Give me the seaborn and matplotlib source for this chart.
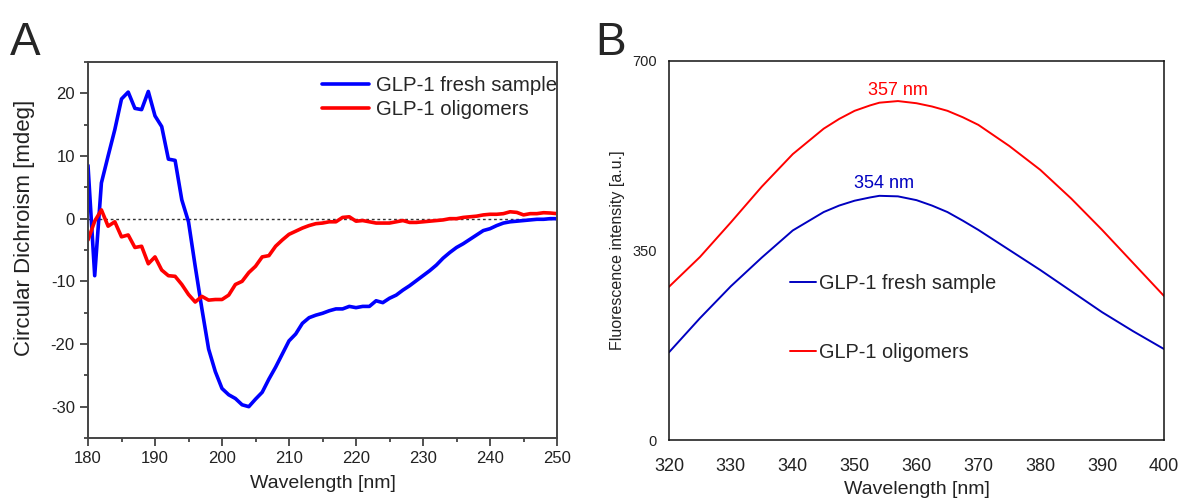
import numpy as np
import pandas as pd
import seaborn as sns
import matplotlib.pyplot as plt

sns.set_style("white")
plt.rcParams['font.family'] = ['Liberation Sans', 'DejaVu Sans']
plt.rcParams['axes.unicode_minus'] = False

# Panel A - CD spectra
cd_wl = np.arange(180, 251)
cd_fresh = [8.5, -9.1, 5.7, 10.0, 14.2, 19.1, 20.2, 17.6, 17.4, 20.3,
            16.4, 14.7, 9.5, 9.3, 3.0, -0.5, -7.6, -14.4, -20.8, -24.4,
            -27.1, -28.1, -28.7, -29.7, -30.0, -28.8, -27.7, -25.6, -23.7, -21.6,
            -19.5, -18.4, -16.7, -15.8, -15.4, -15.1, -14.7, -14.4, -14.4, -14.0,
            -14.2, -14.0, -14.0, -13.1, -13.4, -12.7, -12.2, -11.4, -10.7, -9.9,
            -9.1, -8.3, -7.4, -6.3, -5.4, -4.6, -4.0, -3.3, -2.6, -1.9,
            -1.6, -1.1, -0.7, -0.5, -0.4, -0.3, -0.2, -0.1, -0.1, 0.0, 0.0]
cd_olig = [-3.4, -0.4, 1.4, -1.2, -0.5, -2.9, -2.6, -4.6, -4.4, -7.2,
           -6.1, -8.2, -9.1, -9.2, -10.5, -12.1, -13.3, -12.4, -13.0, -12.9,
           -12.9, -12.2, -10.5, -10.0, -8.6, -7.6, -6.1, -5.9, -4.4, -3.4,
           -2.5, -2.0, -1.5, -1.1, -0.8, -0.7, -0.5, -0.5, 0.2, 0.3,
           -0.4, -0.3, -0.5, -0.7, -0.7, -0.7, -0.5, -0.3, -0.6, -0.6,
           -0.5, -0.4, -0.3, -0.2, 0.0, 0.0, 0.2, 0.3, 0.4, 0.6,
           0.7, 0.7, 0.8, 1.1, 1.0, 0.6, 0.8, 0.8, 0.95, 0.9, 0.8]

# Panel B - fluorescence spectra
fl_wl = [320, 325, 330, 335, 340, 345, 347.5, 350, 352.5, 354, 357, 360, 362.5,
         365, 367.5, 370, 375, 380, 385, 390, 395, 400]
fl_fresh = [162, 225, 284, 337, 387, 421, 433, 442, 448, 451, 450, 443, 433,
            421, 405, 388, 351, 314, 275, 236, 201, 168]
fl_olig = [283, 338, 402, 468, 528, 575, 593, 608, 618, 623, 626, 622, 616,
           608, 596, 582, 543, 499, 446, 388, 327, 266]
series = ["GLP-1 fresh sample", "GLP-1 oligomers"]

fig = plt.figure(figsize=(11.79, 4.99), dpi=100)
ax1 = fig.add_axes([88/1179, 61/499, 469/1179, 376/499])
ax2 = fig.add_axes([669/1179, 59/499, 495/1179, 379/499])

dfa = pd.DataFrame({"wl": np.concatenate([cd_wl, cd_wl]),
                    "cd": cd_fresh + cd_olig,
                    "s": [series[0]] * len(cd_wl) + [series[1]] * len(cd_wl)})
sns.lineplot(data=dfa, x="wl", y="cd", hue="s", palette=["#0000ff", "#ff0000"],
             linewidth=2.6, ax=ax1)
ax1.axhline(0, color="#333333", linestyle=(0, (2, 2)), linewidth=1, zorder=0)
ax1.set_xlim(180, 250)
ax1.set_ylim(-35, 25)
ax1.set_xticks(np.arange(180, 251, 10))
ax1.set_xticks(np.arange(185, 250, 10), minor=True)
ax1.set_yticks(np.arange(-30, 21, 10))
ax1.set_yticks(np.arange(-35, 26, 5), minor=True)
ax1.tick_params(which="major", direction="out", length=6, width=1.2, color="#333333",
                labelsize=12, bottom=True, left=True, labelcolor="#222222")
ax1.tick_params(which="minor", direction="out", length=3, width=1.2, color="#333333",
                bottom=True, left=True)
for sp in ax1.spines.values():
    sp.set_color("#444444")
    sp.set_linewidth(1.4)
ax1.set_xlabel("Wavelength [nm]", fontsize=14, color="#222222", labelpad=6)
ax1.set_ylabel("Circular Dichroism [mdeg]", fontsize=16, color="#222222")
ax1.yaxis.set_label_coords(-0.113, 0.56)
ax1.legend(frameon=False, loc="upper right", bbox_to_anchor=(1.018, 0.985), fontsize=14.7,
           handlelength=2.3, handletextpad=0.35, labelspacing=0.25, borderaxespad=0)

dfb = pd.DataFrame({"wl": fl_wl + fl_wl, "fl": fl_fresh + fl_olig,
                    "s": [series[0]] * len(fl_wl) + [series[1]] * len(fl_wl)})
sns.lineplot(data=dfb, x="wl", y="fl", hue="s", palette=["#0000c0", "#ff0000"],
             linewidth=1.4, ax=ax2)
ax2.set_xlim(320, 400)
ax2.set_ylim(0, 700)
ax2.set_xticks(np.arange(320, 401, 10))
ax2.set_yticks([0, 350, 700])
ax2.tick_params(axis="x", length=0, labelsize=13, pad=13, labelcolor="#222222")
ax2.tick_params(axis="y", length=0, labelsize=10.5, pad=9, labelcolor="#222222")
for sp in ax2.spines.values():
    sp.set_color("#111111")
    sp.set_linewidth(1.1)
ax2.set_xlabel("Wavelength [nm]", fontsize=14, color="#222222", labelpad=4)
ax2.set_ylabel("Fluorescence intensity [a.u.]", fontsize=11.5, color="#222222", labelpad=5)
ax2.text(357, 646, "357 nm", color="#ff0000", fontsize=13, ha="center", va="center")
ax2.text(354.7, 473, "354 nm", color="#0000c0", fontsize=13, ha="center", va="center")
ax2.legend(frameon=False, loc="upper left", bbox_to_anchor=(0.245, 0.438), fontsize=14.3,
           handlelength=1.3, handletextpad=0.15, labelspacing=2.5, borderaxespad=0,
           borderpad=0)

fig.text(10/1179, 1 - 55/499, "A", fontsize=33, ha="left", va="baseline")
fig.text(595/1179, 1 - 55/499, "B", fontsize=33, ha="left", va="baseline")

fig.savefig("out.png", dpi=100)
